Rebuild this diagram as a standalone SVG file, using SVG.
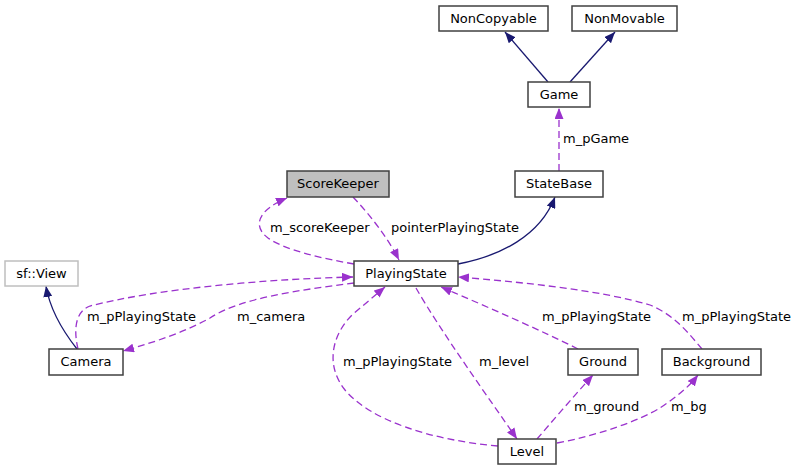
<svg xmlns="http://www.w3.org/2000/svg" width="798" height="471" viewBox="0 0 798 471">
<style>
text{font-family:"DejaVu Sans","Liberation Sans",sans-serif;font-size:13px;fill:#000}
.node rect{fill:#fff;stroke:#404040;stroke-width:1.5}
.node text{text-anchor:middle}
.inh{fill:none;stroke:#191970;stroke-width:1.3}
.use{fill:none;stroke:#9a32cd;stroke-width:1.3;stroke-dasharray:7,4}
</style>
<defs>
<marker id="aN" viewBox="0 0 11 9" refX="11" refY="4.5" markerWidth="11" markerHeight="9" markerUnits="userSpaceOnUse" orient="auto"><path d="M0,0 L11,4.5 L0,9 z" fill="#191970"/></marker>
<marker id="aP" viewBox="0 0 11 9" refX="11" refY="4.5" markerWidth="11" markerHeight="9" markerUnits="userSpaceOnUse" orient="auto"><path d="M0,0 L11,4.5 L0,9 z" fill="#9a32cd"/></marker>
</defs>
<rect width="798" height="471" fill="#fff"/>
<g id="connectors">
<path class="inh" d="M548,82 L505,32" marker-end="url(#aN)"/>
<path class="inh" d="M570,82 L615,32" marker-end="url(#aN)"/>
<path class="use" d="M559,171 L559,108" marker-end="url(#aP)"/>
<text x="563" y="143">m_pGame</text>
<path class="inh" d="M458,264 C500,256 540,236 555,197" marker-end="url(#aN)"/>
<path class="use" d="M353,197 C370,215 388,238 399,260" marker-end="url(#aP)"/>
<text x="391" y="232">pointerPlayingState</text>
<path class="use" d="M354,264 C320,258 285,250 268,238 C252,226 258,210 287,198" marker-end="url(#aP)"/>
<text x="270" y="232">m_scoreKeeper</text>
<path class="use" d="M78,349 C74,332 74,312 90,306 C160,288 270,279 353,277" marker-end="url(#aP)"/>
<text x="87" y="321">m_pPlayingState</text>
<path class="use" d="M354,283 C300,290 240,298 210,318 C185,332 155,342 123,351" marker-end="url(#aP)"/>
<text x="237" y="321">m_camera</text>
<path class="use" d="M498,446 C430,440 370,420 345,390 C325,365 332,335 352,315 L385,287" marker-end="url(#aP)"/>
<text x="343" y="366">m_pPlayingState</text>
<path class="use" d="M416,288 C440,330 490,400 517,439" marker-end="url(#aP)"/>
<text x="479" y="366">m_level</text>
<path class="use" d="M578,349 C540,330 490,308 441,287" marker-end="url(#aP)"/>
<text x="542" y="321">m_pPlayingState</text>
<path class="use" d="M702,349 C690,335 675,315 650,305 C600,290 520,282 458,277" marker-end="url(#aP)"/>
<text x="682" y="321">m_pPlayingState</text>
<path class="use" d="M537,439 C555,418 575,395 593,375" marker-end="url(#aP)"/>
<text x="574" y="411">m_ground</text>
<path class="use" d="M557,443 C600,435 640,420 660,408 C675,398 688,388 698,375" marker-end="url(#aP)"/>
<text x="671" y="411">m_bg</text>
<path class="inh" d="M77,349 C62,330 50,310 46,286" marker-end="url(#aN)"/>
</g>
<g id="NonCopyable" class="node"><rect x="439" y="6" width="109" height="25"/><text x="493.5" y="23">NonCopyable</text></g>
<g id="NonMovable" class="node"><rect x="572" y="6" width="105" height="25"/><text x="624.5" y="23">NonMovable</text></g>
<g id="Game" class="node"><rect x="528" y="82" width="62" height="25"/><text x="559" y="99">Game</text></g>
<g id="StateBase" class="node"><rect x="515" y="171" width="88" height="26"/><text x="559" y="188">StateBase</text></g>
<g id="ScoreKeeper" class="node"><rect x="287" y="171" width="102" height="26" style="fill:#bfbfbf"/><text x="338" y="188">ScoreKeeper</text></g>
<g id="PlayingState" class="node"><rect x="354" y="261" width="104" height="25"/><text x="406" y="278">PlayingState</text></g>
<g id="sfView" class="node"><rect x="5" y="261" width="73" height="25" style="stroke:#bfbfbf"/><text x="41.5" y="278">sf::View</text></g>
<g id="Camera" class="node"><rect x="49" y="349" width="74" height="26"/><text x="86" y="366">Camera</text></g>
<g id="Ground" class="node"><rect x="568" y="349" width="70" height="26"/><text x="603" y="366">Ground</text></g>
<g id="Background" class="node"><rect x="662" y="349" width="99" height="26"/><text x="711.5" y="366">Background</text></g>
<g id="Level" class="node"><rect x="498" y="439" width="58" height="25"/><text x="527" y="456">Level</text></g>
</svg>
